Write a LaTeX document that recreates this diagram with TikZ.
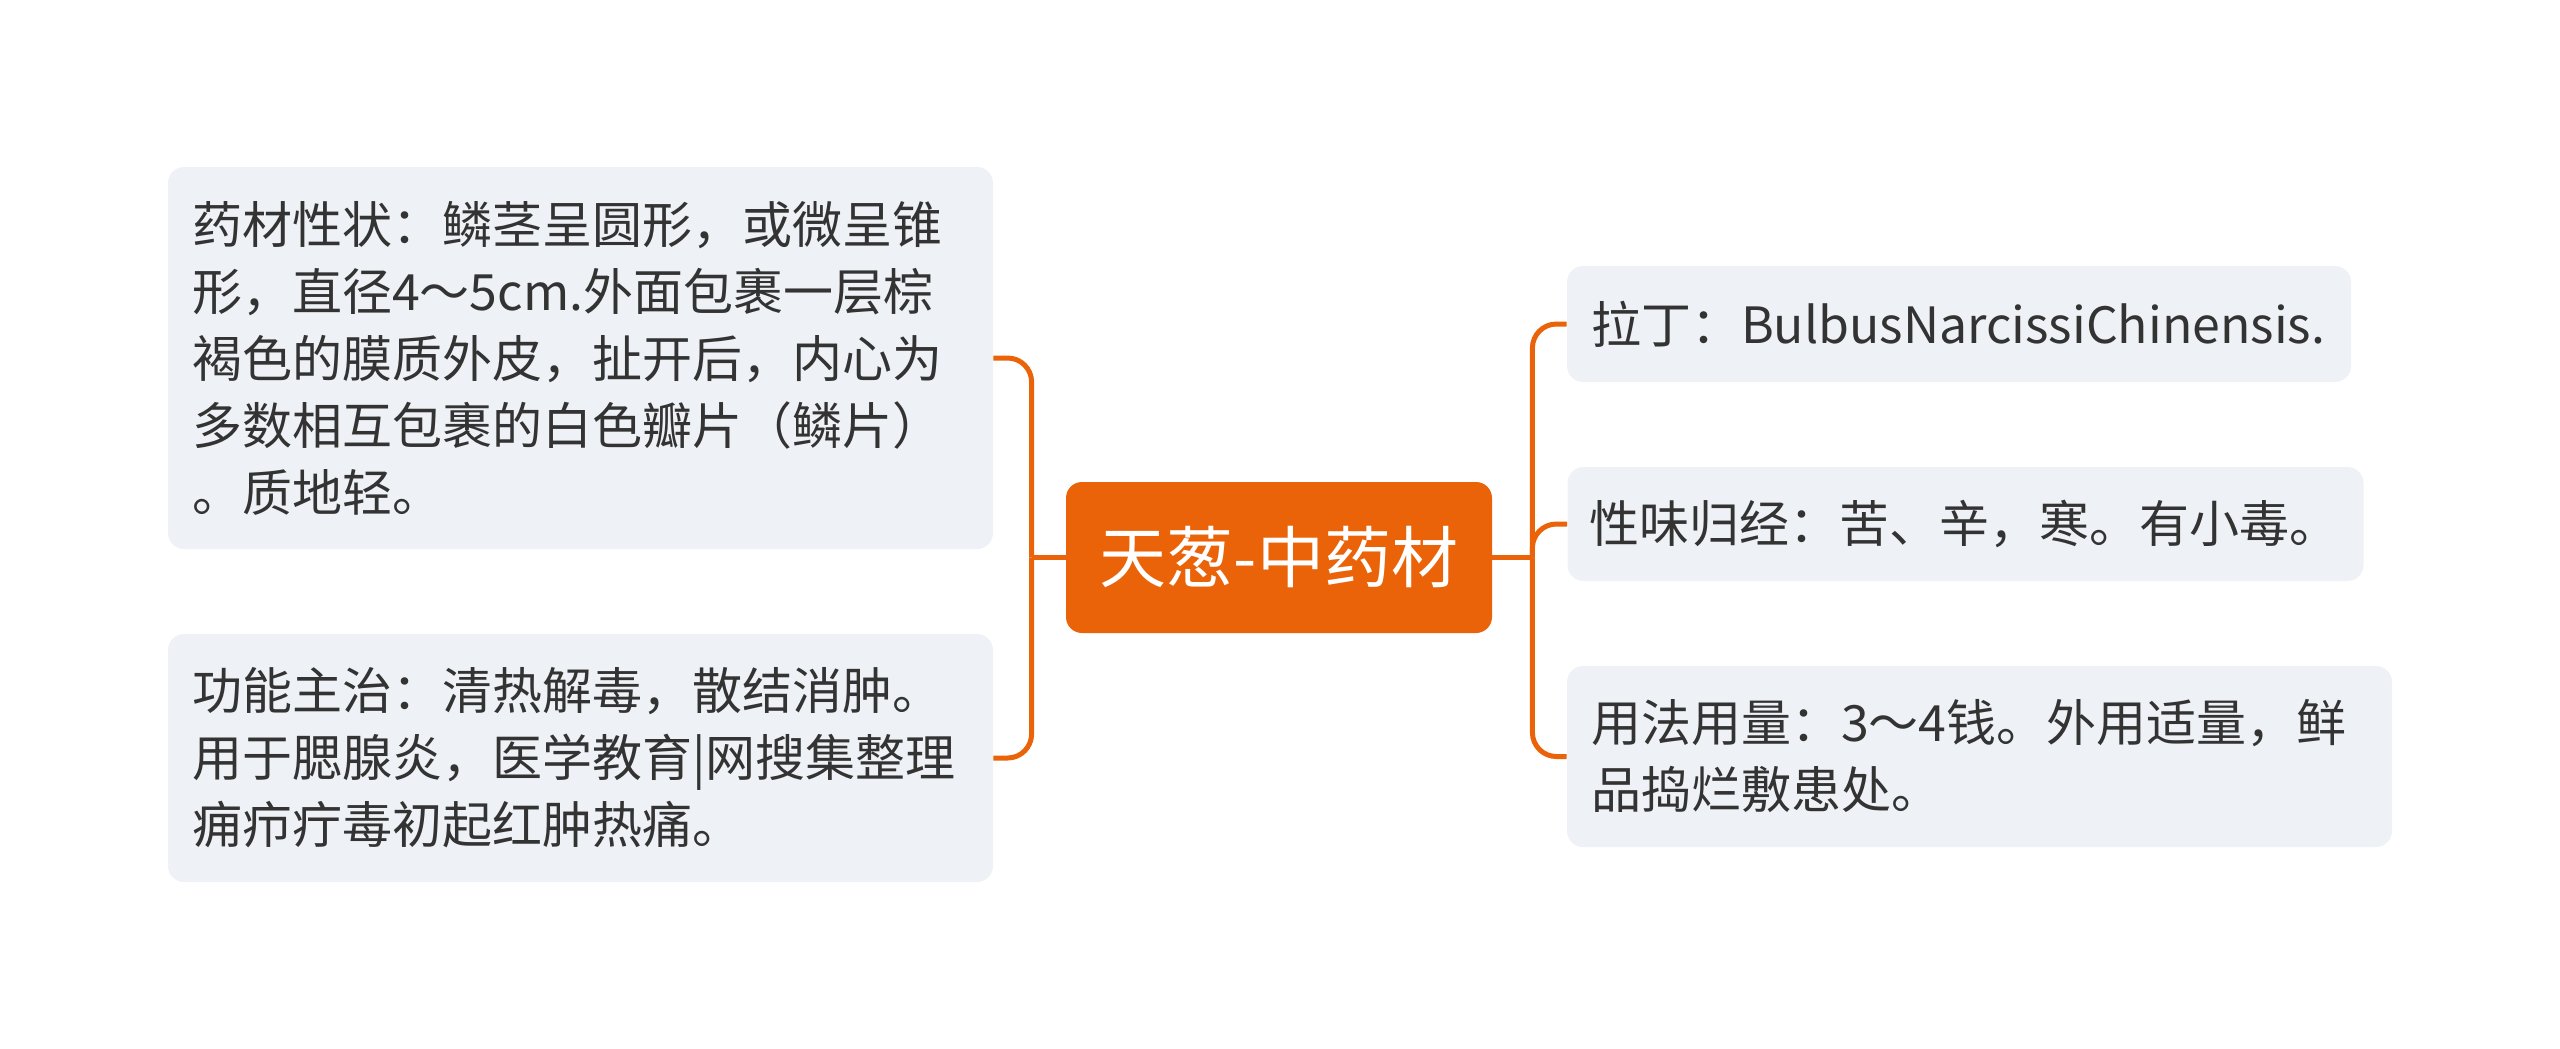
\documentclass[tikz,border=0pt]{standalone}
\usepackage{fontspec}
\setmainfont{Noto Sans CJK SC}
\usetikzlibrary{calc}
\definecolor{rootorange}{HTML}{EB6309}
\definecolor{leafgray}{HTML}{EEF1F5}
\definecolor{textgray}{HTML}{333333}
\begin{document}
\begin{tikzpicture}[
  x=0.5pt, y=-0.5pt,
  root/.style={fill=rootorange, text=white, rounded corners=8pt, minimum width=213pt, minimum height=75.5pt, font=\fontsize{33.5}{40}\selectfont},
  leaf/.style={fill=leafgray, text=textgray, rounded corners=8pt, align=left, inner xsep=12pt, inner ysep=0pt, font=\fontsize{25}{33.5}\selectfont},
  conn/.style={draw=rootorange, line width=2.5pt, rounded corners=12pt}
]
\useasboundingbox (0,0) rectangle (2560,1049);
\node[root] (root) at (1279,557.5) {天葱-中药材};
\node[leaf, text width=388.5pt, minimum height=191pt] (shape) at (580.5,358)
  {药材性状：鳞茎呈圆形，或微呈锥\\形，直径4～5cm.外面包裹一层棕\\褐色的膜质外皮，扯开后，内心为\\多数相互包裹的白色瓣片（鳞片）\\。质地轻。};
\node[leaf, text width=388.5pt, minimum height=124pt] (effect) at (580.5,758)
  {功能主治：清热解毒，散结消肿。\\用于腮腺炎，医学教育|网搜集整理\\痈疖疔毒初起红肿热痛。};
\node[leaf, text width=368pt, minimum height=58pt] (latin) at (1959,324)
  {拉丁：BulbusNarcissiChinensis.};
\node[leaf, text width=376pt, minimum height=57pt, inner xsep=11pt] (taste) at (1965.5,524)
  {性味归经：苦、辛，寒。有小毒。};
\node[leaf, text width=388.5pt, minimum height=90.5pt] (dose) at (1979.5,756.5)
  {用法用量：3～4钱。外用适量，鲜\\品捣烂敷患处。};
\coordinate (lbus) at ($(root.west)+(-34,0)$);
\coordinate (rbus) at ($(root.east)+(40,0)$);
\draw[conn] (root.west) -- (lbus);
\draw[conn] (shape.east) -| (lbus);
\draw[conn] (effect.east) -| (lbus);
\draw[conn] (root.east) -- (rbus);
\draw[conn] (rbus) |- (latin.west);
\draw[conn] (rbus) |- (taste.west);
\draw[conn] (rbus) |- (dose.west);
\end{tikzpicture}
\end{document}
